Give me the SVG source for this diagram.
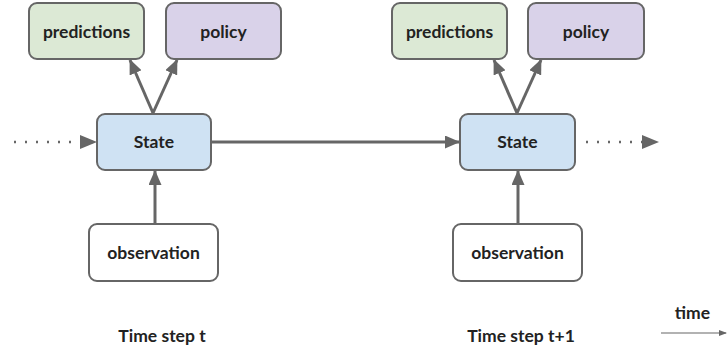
<svg xmlns="http://www.w3.org/2000/svg" width="727" height="349" viewBox="0 0 727 349">
<style>
.box{stroke:#666;stroke-width:2}
.pred{fill:#dce9d5}
.pol{fill:#d9d2e9}
.st{fill:#cfe2f3}
.obs{fill:#fff}
.lbl{font-family:Lato,"Liberation Sans",sans-serif;font-weight:bold;font-size:17.5px;fill:#222;text-anchor:middle}
.ln{stroke:#666;stroke-width:3;fill:none}
.dot{stroke:#666;stroke-width:2.5;fill:none;stroke-dasharray:2 9}
</style>
<defs>
<marker id="ah" markerWidth="15" markerHeight="13" refX="14" refY="6.5" orient="auto" markerUnits="userSpaceOnUse"><path d="M0,0 L15,6.5 L0,13 Z" fill="#666"/></marker>
<marker id="ahd" markerWidth="17" markerHeight="14" refX="16" refY="7" orient="auto" markerUnits="userSpaceOnUse"><path d="M0,0 L17,7 L0,14 Z" fill="#666"/></marker>
<marker id="ahs" markerWidth="8" markerHeight="8" refX="7" refY="4" orient="auto" markerUnits="userSpaceOnUse"><path d="M0,1 L8,4 L0,7 Z" fill="#666"/></marker>
</defs>
<g id="connectors">
<line class="dot" x1="14" y1="142" x2="96" y2="142" marker-end="url(#ahd)"/>
<line class="ln" x1="153" y1="113" x2="130" y2="60" marker-end="url(#ah)"/>
<line class="ln" x1="153" y1="113" x2="177" y2="60" marker-end="url(#ah)"/>
<line class="ln" x1="155" y1="223" x2="155" y2="171" marker-end="url(#ah)"/>
<line class="ln" x1="211" y1="142" x2="459" y2="142" marker-end="url(#ah)"/>
<line class="ln" x1="517" y1="113" x2="494" y2="60" marker-end="url(#ah)"/>
<line class="ln" x1="517" y1="113" x2="541" y2="60" marker-end="url(#ah)"/>
<line class="ln" x1="518" y1="223" x2="518" y2="171" marker-end="url(#ah)"/>
<line class="dot" x1="586" y1="142" x2="658" y2="142" marker-end="url(#ahd)"/>
<line x1="661" y1="333" x2="726" y2="333" stroke="#666" stroke-width="1.2" marker-end="url(#ahs)"/>
</g>
<g id="pred1"><rect class="box pred" x="29" y="3" width="115" height="56" rx="8"/><text class="lbl" x="86.5" y="38">predictions</text></g>
<g id="policy1"><rect class="box pol" x="166" y="3" width="115" height="56" rx="8"/><text class="lbl" x="223.5" y="38">policy</text></g>
<g id="state1"><rect class="box st" x="97" y="114" width="114" height="56" rx="8"/><text class="lbl" x="154" y="148">State</text></g>
<g id="obs1"><rect class="box obs" x="89" y="224" width="129" height="57" rx="8"/><text class="lbl" x="153.5" y="259">observation</text></g>
<g id="pred2"><rect class="box pred" x="392" y="3" width="115" height="56" rx="8"/><text class="lbl" x="449.5" y="38">predictions</text></g>
<g id="policy2"><rect class="box pol" x="528" y="3" width="116" height="56" rx="8"/><text class="lbl" x="586" y="38">policy</text></g>
<g id="state2"><rect class="box st" x="460" y="114" width="115" height="56" rx="8"/><text class="lbl" x="517.5" y="148">State</text></g>
<g id="obs2"><rect class="box obs" x="453" y="224" width="129" height="57" rx="8"/><text class="lbl" x="517.5" y="259">observation</text></g>
<text class="lbl" x="162" y="342">Time step t</text>
<text class="lbl" x="521" y="342">Time step t+1</text>
<text class="lbl" x="692.5" y="319">time</text>
</svg>
